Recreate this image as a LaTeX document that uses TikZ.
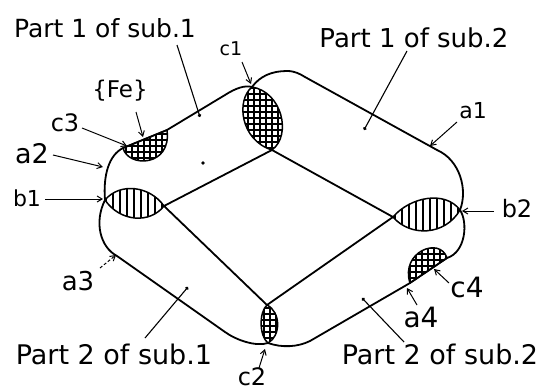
\documentclass[tikz,border=0pt]{standalone}
\usepackage{fontspec}
\setmainfont{DejaVu Sans}
\usetikzlibrary{arrows.meta}
\begin{document}
\begin{tikzpicture}[x=1pt,y=-1pt,
  edge/.style={line width=1.8pt, line join=round, line cap=round},
  lensline/.style={line width=1.5pt, line join=round},
  vhatch/.style={line width=1.2pt},
  xhatch/.style={line width=1.3pt},
  ptr/.style={line width=1pt, -{Straight Barb[length=5pt,width=6pt]}},
  ptrdash/.style={ptr, dash pattern=on 3pt off 2pt},
  lead/.style={line width=1.1pt, -{Circle[length=3.4pt]}},
  lbl/.style={inner sep=0pt, anchor=base}]

\useasboundingbox (0,0) rectangle (544,391);

% ---------- key points ----------
\coordinate (b1L) at (105,200);
\coordinate (b1R) at (164,206);
\coordinate (c1T) at (252,87);
\coordinate (c1B) at (272,150);
\coordinate (b2L) at (393,217);
\coordinate (b2R) at (460,210);
\coordinate (c2T) at (267,305);
\coordinate (c2B) at (268,343);
\coordinate (c3A) at (123,148);
\coordinate (c3B) at (167,130);
\coordinate (c4C) at (410,283);
\coordinate (c4D) at (447,258);
\coordinate (tl1) at (225,95);
\coordinate (top2) at (287,71);
\coordinate (tr1) at (305,77);
\coordinate (tr2) at (437,150);
\coordinate (br1) at (310,341);
\coordinate (bl1) at (225,332);
\coordinate (bl2) at (117,256);

% ---------- lens paths ----------
\def\lensbone{(b1L) .. controls (120,182) and (150,186) .. (b1R) .. controls (150,224) and (120,222) .. (b1L)}
\def\lensbtwo{(b2L) .. controls (410,197) and (445,190) .. (b2R) .. controls (445,236) and (410,237) .. (b2L)}
\def\lenscone{(c1T) .. controls (282,92) and (292,135) .. (c1B) .. controls (240,140) and (236,100) .. (c1T)}
\def\lensctwo{(c2T) .. controls (281,312) and (281,336) .. (c2B) .. controls (259,336) and (259,312) .. (c2T)}
\def\lenscthree{(c3A) .. controls (128,168) and (172,167) .. (c3B) -- (c3A)}
\def\lenscfour{(c4C) .. controls (400,252) and (440,236) .. (c4D) -- (c4C)}

% ---------- hatching ----------
\begin{scope}
  \clip \lensbone -- cycle;
  \foreach \x in {99,106,...,170} {\draw[vhatch] (\x,180) -- (\x,230);}
\end{scope}
\begin{scope}
  \clip \lensbtwo -- cycle;
  \foreach \x in {388,395,...,465} {\draw[vhatch] (\x,190) -- (\x,240);}
\end{scope}
\begin{scope}
  \clip \lenscone -- cycle;
  \foreach \x in {236,242,...,296} {\draw[xhatch] (\x,80) -- (\x,160);}
  \foreach \y in {82,88,...,156} {\draw[xhatch] (230,\y) -- (300,\y);}
\end{scope}
\begin{scope}
  \clip \lensctwo -- cycle;
  \foreach \x in {258,264,...,284} {\draw[xhatch] (\x,300) -- (\x,350);}
  \foreach \y in {302,308,...,348} {\draw[xhatch] (250,\y) -- (290,\y);}
\end{scope}
\begin{scope}
  \clip \lenscthree -- cycle;
  \foreach \x in {120,126,...,175} {\draw[xhatch] (\x,125) -- (\x,170);}
  \foreach \y in {128,134,...,170} {\draw[xhatch] (118,\y) -- (178,\y);}
\end{scope}
\begin{scope}
  \clip \lenscfour -- cycle;
  \foreach \x in {398,404,...,452} {\draw[xhatch] (\x,240) -- (\x,290);}
  \foreach \y in {242,248,...,290} {\draw[xhatch] (395,\y) -- (455,\y);}
\end{scope}

% ---------- lens outlines ----------
\draw[lensline] \lensbone -- cycle;
\draw[lensline] \lensbtwo -- cycle;
\draw[lensline] \lenscone -- cycle;
\draw[lensline] \lensctwo -- cycle;
\draw[lensline] \lenscthree -- cycle;
\draw[lensline] \lenscfour -- cycle;

% ---------- outer boundary ----------
\draw[edge] (b1L) .. controls (103,175) and (109,155) .. (c3A) -- (c3B) -- (tl1)
  .. controls (236,88) and (245,85) .. (c1T)
  .. controls (260,76) and (272,71) .. (top2)
  .. controls (295,71) and (300,74) .. (tr1) -- (tr2)
  .. controls (460,160) and (468,190) .. (b2R)
  .. controls (468,222) and (466,252) .. (c4D) -- (c4C) -- (br1)
  .. controls (298,347) and (282,348) .. (c2B)
  .. controls (256,347) and (236,340) .. (bl1) -- (bl2)
  .. controls (100,247) and (94,222) .. (b1L);

% ---------- inner boundary ----------
\draw[edge] (b1R) -- (c1B) -- (b2L) -- (c2T) -- cycle;

% ---------- labels ----------
\node[lbl, font=\fontsize{25}{30}\selectfont] (p1s1) at (105,37) {Part 1 of sub.1};
\node[lbl, font=\fontsize{26}{30}\selectfont] (p1s2) at (414,47) {Part 1 of sub.2};
\node[lbl, font=\fontsize{27}{30}\selectfont] (p2s1) at (114,364) {Part 2 of sub.1};
\node[lbl, font=\fontsize{27}{30}\selectfont] (p2s2) at (440,364) {Part 2 of sub.2};

\node[lbl, font=\fontsize{19}{21}\selectfont] (lc1) at (231,55) {c1};
\node[lbl, font=\fontsize{23}{25}\selectfont] (lfe) at (120,97) {\{Fe\}};
\node[lbl, font=\fontsize{22}{24}\selectfont] (la1) at (473,118) {a1};
\node[lbl, font=\fontsize{24}{26}\selectfont] (lc3) at (65,131) {c3};
\node[lbl, font=\fontsize{27}{30}\selectfont] (la2) at (32,163) {a2};
\node[lbl, font=\fontsize{22}{24}\selectfont] (lb1) at (27,206) {b1};
\node[lbl, font=\fontsize{26}{28}\selectfont] (la3) at (78,290) {a3};
\node[lbl, font=\fontsize{24}{26}\selectfont] (lc2) at (252,385) {c2};
\node[lbl, font=\fontsize{24}{26}\selectfont] (lb2) at (517,217) {b2};
\node[lbl, font=\fontsize{28}{30}\selectfont] (lc4) at (467,297) {c4};
\node[lbl, font=\fontsize{28}{30}\selectfont] (la4) at (421,327) {a4};

% ---------- leader lines ----------
\coordinate (tp1s1) at (177,45);  \coordinate (dp1s1) at (200,117);
\coordinate (tp1s2) at (407,51);  \coordinate (dp1s2) at (364,130);
\coordinate (tp2s1) at (145,338); \coordinate (dp2s1) at (188,287);
\coordinate (tp2s2) at (404,342); \coordinate (dp2s2) at (362,298);
\draw[lead] (tp1s1) -- (dp1s1);
\draw[lead] (tp1s2) -- (dp1s2);
\draw[lead] (tp2s1) -- (dp2s1);
\draw[lead] (tp2s2) -- (dp2s2);
\node[circle, fill, inner sep=1.4pt] (stray) at (203,163) {};

% ---------- arrows ----------
\coordinate (ac1s) at (242,62);  \coordinate (ac1e) at (251,84);
\coordinate (afes) at (136,112); \coordinate (afee) at (143,137);
\coordinate (ac3s) at (82,128);  \coordinate (ac3e) at (127,146);
\coordinate (aa2s) at (53,155);  \coordinate (aa2e) at (103,167);
\coordinate (ab1s) at (45,199);  \coordinate (ab1e) at (103,199);
\coordinate (aa3s) at (100,268); \coordinate (aa3e) at (116,255);
\coordinate (ac2s) at (259,368); \coordinate (ac2e) at (265,349);
\coordinate (ab2s) at (494,211); \coordinate (ab2e) at (462,211);
\coordinate (ac4s) at (449,283); \coordinate (ac4e) at (434,269);
\coordinate (aa4s) at (417,305); \coordinate (aa4e) at (407,288);
\coordinate (aa1s) at (457,122); \coordinate (aa1e) at (430,146);
\draw[ptr] (ac1s) -- (ac1e);
\draw[ptr] (afes) -- (afee);
\draw[ptr] (ac3s) -- (ac3e);
\draw[ptr] (aa2s) -- (aa2e);
\draw[ptr] (ab1s) -- (ab1e);
\draw[ptrdash] (aa3s) -- (aa3e);
\draw[ptr] (ac2s) -- (ac2e);
\draw[ptr] (ab2s) -- (ab2e);
\draw[ptr] (ac4s) -- (ac4e);
\draw[ptr] (aa4s) -- (aa4e);
\draw[ptr] (aa1s) -- (aa1e);
\end{tikzpicture}
\end{document}
